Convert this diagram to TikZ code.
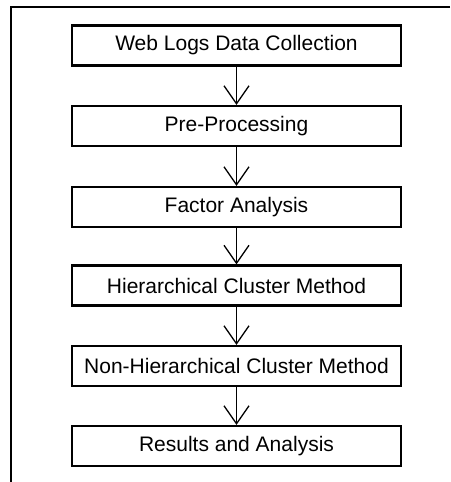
\documentclass[tikz,border=0pt]{standalone}
\usepackage{fontspec}
\setmainfont{Liberation Sans}
\usetikzlibrary{arrows.meta}
\begin{document}
\begin{tikzpicture}[x=1pt,y=-1pt,
  stepbox/.style={draw=black,line width=2.2pt,minimum width=329pt,minimum height=40pt,inner sep=0pt,font=\fontsize{21}{24}\selectfont,fill=white},
  flow/.style={line width=1.3pt,-{Straight Barb[length=18pt,width=25pt,line width=1.3pt]}}]
\useasboundingbox (0,0) rectangle (450,482);
\coordinate (tl) at (11,7);
\coordinate (tr) at (450,7);
\coordinate (bl) at (11,482);
\draw[line width=2pt] (tr) -- (tl) -- (bl);
\node[stepbox] (a) at (236.5,45.5) {Web Logs Data Collection};
\node[stepbox] (b) at (236.5,126) {Pre-Processing};
\node[stepbox] (c) at (236.5,207) {Factor Analysis};
\node[stepbox] (d) at (236.5,285.5) {Hierarchical Cluster Method};
\node[stepbox] (e) at (236.5,366) {Non-Hierarchical Cluster Method};
\node[stepbox] (f) at (236.5,446) {Results and Analysis};
\draw[flow] (a) -- (b);
\draw[flow] (b) -- (c);
\draw[flow] (c) -- (d);
\draw[flow] (d) -- (e);
\draw[flow] (e) -- (f);
\end{tikzpicture}
\end{document}
